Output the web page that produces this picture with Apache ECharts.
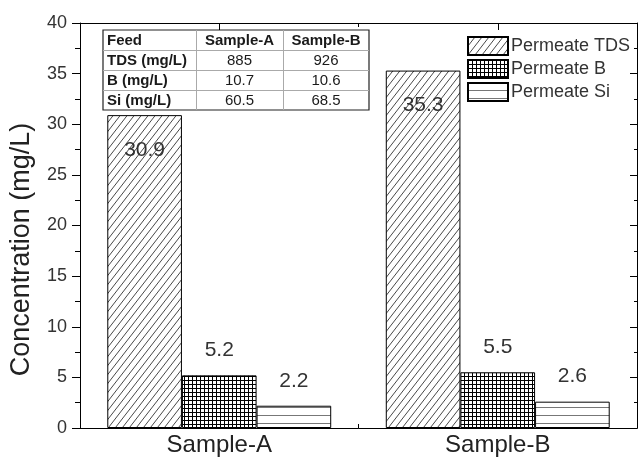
<!DOCTYPE html>
<html>
<head>
<meta charset="utf-8">
<script src="https://cdn.jsdelivr.net/npm/echarts@6/dist/echarts.min.js"></script>
<style>html,body{margin:0;padding:0;background:#fff;}#main{width:638px;height:457px;}</style>
</head>
<body>
<div id="main"></div>
<script>
// ---- data ----
const categories = ['Sample-A', 'Sample-B'];
const seriesNames = ['Permeate TDS', 'Permeate B', 'Permeate Si'];
const tdsValues = [30.9, 35.3];
const boronValues = [5.2, 5.5];
const siliconValues = [2.2, 2.6];
const yTicks = [0, 5, 10, 15, 20, 25, 30, 35, 40];
const tableHeader = ['Feed', 'Sample-A', 'Sample-B'];
const tableRowLabels = ['TDS (mg/L)', 'B (mg/L)', 'Si (mg/L)'];
const tableSampleA = ['885', '10.7', '60.5'];
const tableSampleB = ['926', '10.6', '68.5'];

const FONT = "'Liberation Sans', Arial, sans-serif";

// ---- patterns ----
function diagPattern() {
  const w = 7, h = 9;
  const c = document.createElement('canvas'); c.width = w; c.height = h;
  const g = c.getContext('2d');
  g.fillStyle = '#fff'; g.fillRect(0, 0, w, h);
  g.strokeStyle = '#333'; g.lineWidth = 0.9;
  for (const dx of [-w, 0, w]) {
    g.beginPath(); g.moveTo(dx, h); g.lineTo(dx + w, 0); g.stroke();
  }
  return c;
}
function gridPattern() {
  const s = 4;
  const c = document.createElement('canvas'); c.width = s; c.height = s;
  const g = c.getContext('2d');
  g.fillStyle = '#fff'; g.fillRect(0, 0, s, s);
  g.fillStyle = '#000';
  g.fillRect(0, 0, 1, s); g.fillRect(0, 0, s, 1);
  return c;
}
function hlinePattern() {
  const w = 4, h = 8;
  const c = document.createElement('canvas'); c.width = w; c.height = h;
  const g = c.getContext('2d');
  g.fillStyle = '#fff'; g.fillRect(0, 0, w, h);
  g.fillStyle = '#777'; g.fillRect(0, 7, w, 1);
  return c;
}
const patterns = [
  { image: diagPattern(), repeat: 'repeat' },
  { image: gridPattern(), repeat: 'repeat' },
  { image: hlinePattern(), repeat: 'repeat' }
];

// ---- table graphic ----
const tX = 103, tY = 30, colW = [93, 87, 86], rowH = 20;
const tableW = colW.reduce((a, b) => a + b, 0);
const tableH = rowH * (tableRowLabels.length + 1);
const tableChildren = [];
tableChildren.push({ type: 'rect', shape: { x: tX, y: tY, width: tableW, height: tableH },
  style: { fill: '#fff', stroke: '#222', lineWidth: 1.2 } });
for (let r = 1; r <= tableRowLabels.length; r++) {
  tableChildren.push({ type: 'line', shape: { x1: tX, y1: tY + r * rowH + 0.5, x2: tX + tableW, y2: tY + r * rowH + 0.5 },
    style: { stroke: '#aaa', lineWidth: 1 } });
}
let cx = tX;
for (let c = 0; c < colW.length - 1; c++) {
  cx += colW[c];
  tableChildren.push({ type: 'line', shape: { x1: cx + 0.5, y1: tY, x2: cx + 0.5, y2: tY + tableH },
    style: { stroke: '#aaa', lineWidth: 1 } });
}
const tableRows = [tableHeader].concat(tableRowLabels.map((l, i) => [l, tableSampleA[i], tableSampleB[i]]));
tableRows.forEach((row, r) => {
  let x0 = tX;
  row.forEach((txt, c) => {
    const bold = (r === 0 || c === 0);
    const left = (c === 0);
    tableChildren.push({ type: 'text',
      style: { text: txt, x: left ? x0 + 4 : x0 + colW[c] / 2, y: tY + r * rowH + rowH / 2 + 1,
        align: left ? 'left' : 'center', verticalAlign: 'middle',
        font: (bold ? 'bold ' : '') + '15px ' + FONT, fill: '#1a1a1a' } });
    x0 += colW[c];
  });
});

// ---- chart ----
const chart = echarts.init(document.getElementById('main'), null, { renderer: 'canvas' });
const axisLine = { show: true, lineStyle: { color: '#000', width: 1 } };
const valueLists = [tdsValues, boronValues, siliconValues];

const series = valueLists.map((vals, i) => ({
  name: seriesNames[i],
  type: 'bar',
  xAxisIndex: 0,
  yAxisIndex: 0,
  data: vals,
  barGap: '0%',
  barCategoryGap: '19.6%',
  itemStyle: { color: patterns[i], borderColor: '#000', borderWidth: 1 },
  label: {
    show: true,
    position: i === 0 ? ['50%', 35] : ['50%', -25],
    align: 'center', verticalAlign: 'middle',
    fontFamily: FONT, fontSize: 21, color: '#333',
    formatter: p => p.value.toFixed(1)
  },
  emphasis: { disabled: true }
}));

chart.setOption({
  animation: false,
  backgroundColor: '#fff',
  textStyle: { fontFamily: FONT },
  grid: { left: 76, right: 1, top: 23, bottom: 29, containLabel: false },
  legend: {
    data: seriesNames,
    orient: 'vertical',
    left: 462, top: 31,
    itemWidth: 40, itemHeight: 18, itemGap: 3,
    icon: 'rect',
    textStyle: { fontFamily: FONT, fontSize: 18, color: '#333', padding: [0, 0, 0, -2] },
    selectedMode: false
  },
  xAxis: [
    { type: 'category', data: categories, position: 'bottom', axisLine,
      axisTick: { show: true, alignWithLabel: true, inside: true, length: 7, lineStyle: { color: '#000' } },
      axisLabel: { fontFamily: FONT, fontSize: 24, color: '#222', margin: 5 }, splitLine: { show: false } },
    { type: 'category', data: categories, position: 'bottom', axisLine,
      axisTick: { show: true, inside: true, length: 4, lineStyle: { color: '#000' } },
      axisLabel: { show: false }, splitLine: { show: false } },
    { type: 'category', data: categories, position: 'top', axisLine,
      axisTick: { show: true, alignWithLabel: true, inside: true, length: 7, lineStyle: { color: '#000' } },
      axisLabel: { show: false }, splitLine: { show: false } },
    { type: 'category', data: categories, position: 'top', axisLine,
      axisTick: { show: true, inside: true, length: 4, lineStyle: { color: '#000' } },
      axisLabel: { show: false }, splitLine: { show: false } }
  ],
  yAxis: [
    { type: 'value', min: yTicks[0], max: yTicks[yTicks.length - 1], interval: yTicks[1] - yTicks[0], position: 'left',
      name: 'Concentration (mg/L)', nameLocation: 'middle', nameGap: 45,
      nameTextStyle: { fontFamily: FONT, fontSize: 27, color: '#222', padding: [0, 48, 0, 0] },
      axisLine, axisTick: { show: true, inside: false, length: 8, lineStyle: { color: '#000' } },
      minorTick: { show: true, splitNumber: 2, length: 5, lineStyle: { color: '#000' } },
      axisLabel: { fontFamily: FONT, fontSize: 18, color: '#333', margin: 13 },
      splitLine: { show: false }, minorSplitLine: { show: false } },
    { type: 'value', min: yTicks[0], max: yTicks[yTicks.length - 1], interval: yTicks[1] - yTicks[0], position: 'right',
      axisLine, axisTick: { show: true, inside: true, length: 7, lineStyle: { color: '#000' } },
      minorTick: { show: true, splitNumber: 2, length: 3, lineStyle: { color: '#000' } },
      axisLabel: { show: false }, splitLine: { show: false } }
  ],
  series,
  graphic: [{ type: 'group', z: 100, children: tableChildren }]
});
</script>
</body>
</html>
